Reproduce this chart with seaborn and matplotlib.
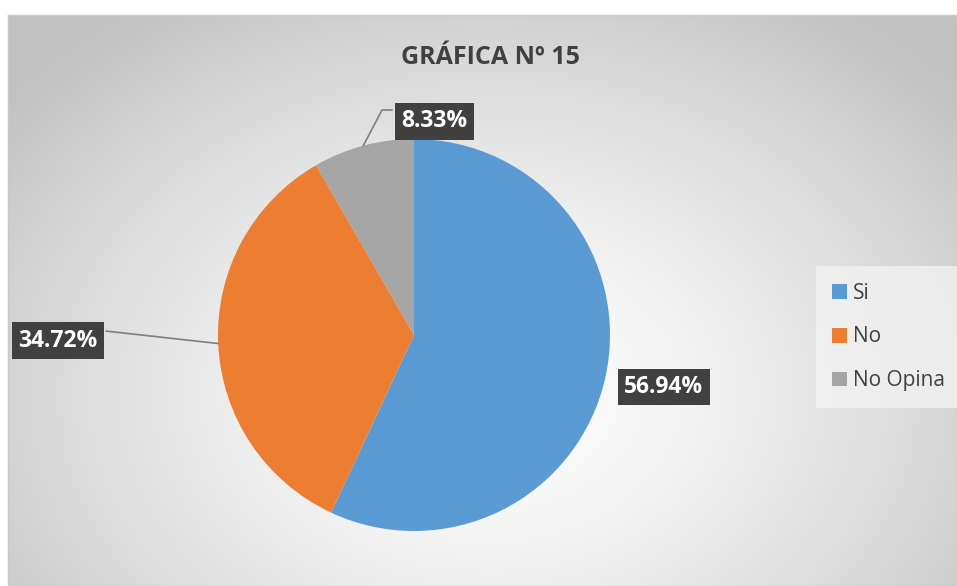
import numpy as np
import pandas as pd
import seaborn as sns
import matplotlib.pyplot as plt

# datos de la grafica
categorias = ["Si", "No", "No Opina"]
porcentajes = [56.94, 34.72, 8.33]
etiquetas = ["56.94%", "34.72%", "8.33%"]
colores = ["#5B9BD5", "#ED7D31", "#A5A5A5"]

# posicion de las etiquetas (en unidades del radio) y codo de la linea guia
pos_etiquetas = [(1.275, -0.265), (-1.815, -0.03), (0.105, 1.09)]
lineas_guia = [None, [(-1.571, 0.02)], [(-0.163, 1.148), (-0.112, 1.148)]]

W, H = 957, 586

sns.set_theme(style="white")
plt.rcParams['font.family'] = ['Open Sans', 'DejaVu Sans']

fig = plt.figure(figsize=(W / 100, H / 100), dpi=100)

# fondo con degradado radial
bg = fig.add_axes([8 / W, 0, (W - 8) / W, (H - 15) / H])
yy, xx = np.mgrid[0:571, 0:949]
d = np.sqrt(((xx - 480) / 620) ** 2 + ((yy - 380) / 470) ** 2)
d = np.clip(d, 0, 1)
gris = 1.0 - 0.24 * d ** 1.4
bg.imshow(np.dstack([gris, gris, gris]), aspect='auto', interpolation='bilinear')
bg.set_xticks([])
bg.set_yticks([])
for s in bg.spines.values():
    s.set_color('#c8c8c8')
    s.set_linewidth(1)

# pastel
cx, cy, r = 414, 335, 196
ax = fig.add_axes([(cx - r) / W, (H - cy - r) / H, 2 * r / W, 2 * r / H])
ax.set_facecolor('none')
df = pd.DataFrame({'categoria': categorias, 'valor': porcentajes})
paleta = sns.color_palette(colores)
wedges, _ = ax.pie(df['valor'], colors=paleta, startangle=90, counterclock=False,
                   radius=1, wedgeprops=dict(linewidth=0))
ax.set_xlim(-1, 1)
ax.set_ylim(-1, 1)
ax.set_aspect('equal')
ax.axis('off')

for w, txt, pos, guia in zip(wedges, etiquetas, pos_etiquetas, lineas_guia):
    if guia is not None:
        ang = np.deg2rad((w.theta1 + w.theta2) / 2)
        pts = [(np.cos(ang), np.sin(ang))] + guia
        xs, ys = zip(*pts)
        ax.plot(xs, ys, color='#7f7f7f', lw=1.2, clip_on=False, zorder=3)
    ax.text(pos[0], pos[1], txt, ha='center', va='center', color='white',
            fontsize=16.5, fontweight='bold', clip_on=False, zorder=5,
            bbox=dict(boxstyle='square,pad=0.28', fc='#404040', ec='none'))

# titulo
fig.text(490 / W, 1 - 58 / H, "GRÁFICA Nº 15", ha='center', va='center',
         fontsize=18, fontweight='bold', color='#404040')

# leyenda
handles = [plt.Rectangle((0, 0), 1, 1, fc=c, ec='none') for c in colores]
leg = fig.legend(handles, categorias, loc='center left',
                 bbox_to_anchor=(822 / W, 1 - 337 / H), frameon=True,
                 fontsize=15, handlelength=0.7, handleheight=0.7,
                 handletextpad=0.3, labelspacing=1.1, borderpad=0.5,
                 borderaxespad=0, labelcolor='#404040')
leg.get_frame().set_facecolor('#f2f2f2')
leg.get_frame().set_edgecolor('none')
leg.get_frame().set_boxstyle('square')
leg.get_frame().set_alpha(0.8)

fig.savefig('out.png', dpi=100)
